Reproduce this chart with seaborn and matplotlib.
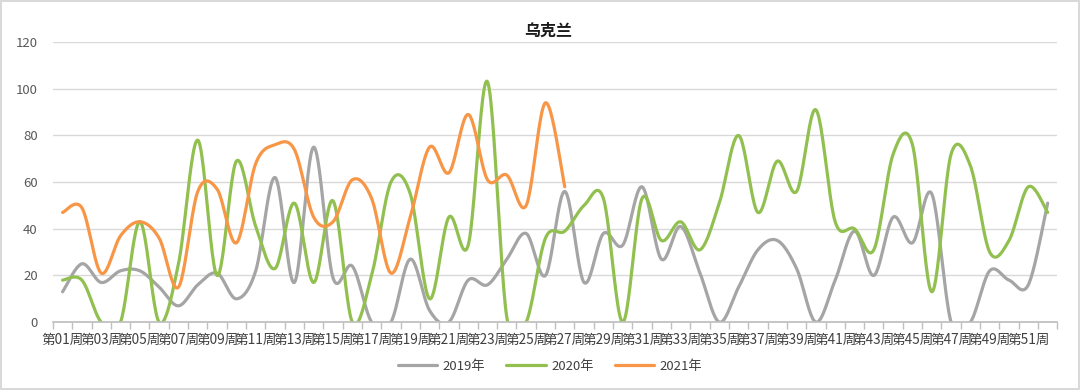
import numpy as np
import pandas as pd
import matplotlib.pyplot as plt
import seaborn as sns

# weekly values
weeks = [f"第{i:02d}周" for i in range(1, 53)]
y2019 = [13, 25, 17, 22, 22, 15, 7, 16, 21, 10, 22, 62, 17, 75, 19, 24,
         0, 0, 27, 5, 0, 18, 16, 27, 38, 20, 56, 17, 38, 33, 58, 27,
         41, 21, 0, 15, 31, 35, 23, 0, 18, 39, 20, 45, 34, 55, 0, 0,
         22, 18, 16, 51]
y2020 = [18, 18, 0, 0, 43, 0, 25, 78, 20, 69, 41, 23, 51, 17, 52, 0,
         20, 60, 55, 10, 45, 33, 103, 2, 0, 36, 39, 50, 53, 0, 53, 35,
         43, 31, 51, 80, 47, 69, 56, 91, 43, 40, 31, 72, 76, 13, 72, 67,
         30, 35, 58, 47]
y2021 = [47, 49, 21, 37, 43, 36, 15, 56, 57, 34, 68, 76, 74, 45, 43, 61,
         53, 21, 45, 75, 64, 89, 61, 63, 50, 94, 58]
series = {"2019年": y2019, "2020年": y2020, "2021年": y2021}
colors = {"2019年": "#A5A5A5", "2020年": "#92C050", "2021年": "#F79646"}


def smooth(vals, steps=24):
    """Excel-style smoothed line (Catmull-Rom as cubic Bezier)"""
    p = np.column_stack([np.arange(len(vals)), np.asarray(vals, float)])
    ext = np.vstack([p[0], p, p[-1]])
    pts = []
    t = np.linspace(0, 1, steps, endpoint=False)[:, None]
    for i in range(len(p) - 1):
        p0, p1, p2, p3 = ext[i], ext[i + 1], ext[i + 2], ext[i + 3]
        b1 = p1 + (p2 - p0) / 6
        b2 = p2 - (p3 - p1) / 6
        seg = ((1 - t) ** 3) * p1 + 3 * ((1 - t) ** 2) * t * b1 \
            + 3 * (1 - t) * t ** 2 * b2 + t ** 3 * p2
        pts.append(seg)
    pts.append(p[-1:])
    return np.vstack(pts)


frames = []
for name, vals in series.items():
    xy = smooth(vals)
    frames.append(pd.DataFrame({"x": xy[:, 0], "y": xy[:, 1], "year": name}))
df = pd.concat(frames, ignore_index=True)

sns.set_theme(style="white")
plt.rcParams['font.family'] = ['Noto Sans CJK SC', 'DejaVu Sans']

fig = plt.figure(figsize=(10.8, 3.9), dpi=100)
fig.patch.set_edgecolor("#D9D9D9")
fig.patch.set_linewidth(1.5)
ax = fig.add_axes([0.049, 0.174, 0.930, 0.718])

sns.lineplot(data=df, x="x", y="y", hue="year", palette=colors,
             linewidth=2.3, sort=False, estimator=None, ax=ax)

ax.set_xlim(-0.5, 51.5)
ax.set_ylim(0, 120)
ax.set_yticks(range(0, 121, 20))
ax.yaxis.grid(True, color="#D9D9D9", linewidth=1)
ax.set_axisbelow(True)
ax.set_xticks(range(0, 52, 2))
ax.set_xticklabels(weeks[::2], fontsize=9.8, color="#404040")
ax.set_xticks(np.arange(-0.5, 52, 1), minor=True)
ax.tick_params(axis="x", which="major", length=0, pad=8)
ax.tick_params(axis="x", which="minor", length=5, color="#BFBFBF", width=1,
               direction="out", bottom=True)
ax.tick_params(axis="y", labelsize=9.5, labelcolor="#595959", length=0, pad=11)
for side in ["top", "right", "left"]:
    ax.spines[side].set_visible(False)
ax.spines["bottom"].set_color("#BFBFBF")
ax.set_xlabel("")
ax.set_ylabel("")

fig.text(0.508, 0.922, "乌克兰", ha="center", va="center",
         fontsize=11.5, fontweight="bold", color="#1a1a1a")

handles, labels = ax.get_legend_handles_labels()
ax.legend(handles, labels, loc="center", bbox_to_anchor=(0.495, -0.158),
          ncol=3, frameon=False, fontsize=9.5, handlelength=3.0,
          columnspacing=1.6, handletextpad=0.4, labelcolor="#404040")

fig.savefig("out.png", dpi=100)
